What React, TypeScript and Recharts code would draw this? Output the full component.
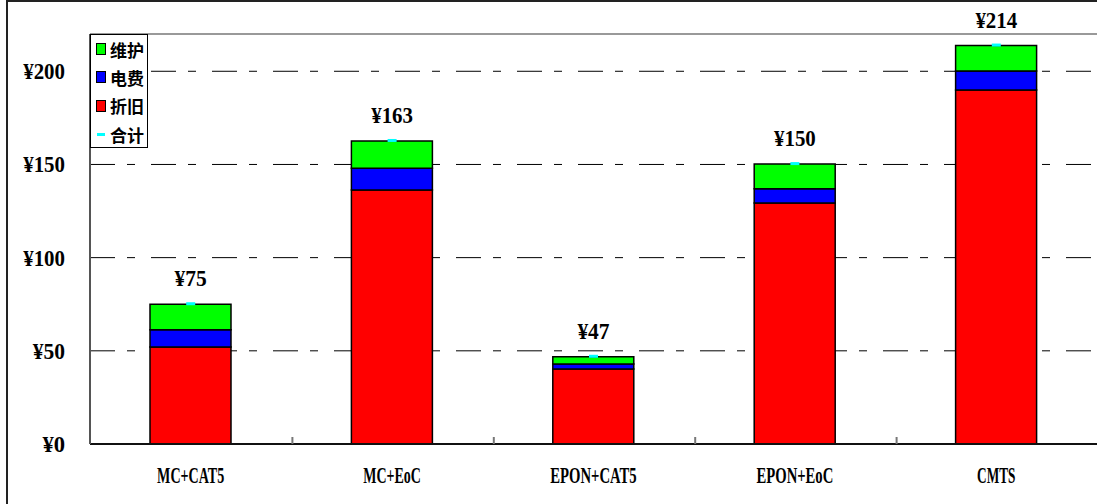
import React from 'react';
import {
  ComposedChart,
  Bar,
  Line,
  XAxis,
  YAxis,
  CartesianGrid,
  ReferenceLine,
  LabelList,
} from 'recharts';

// Access-network options and their yearly cost per user (¥)
const categories = ['MC+CAT5', 'MC+EoC', 'EPON+CAT5', 'EPON+EoC', 'CMTS'];
const depreciation = [52, 136.3, 40.3, 129.3, 190]; // 折旧
const power = [9.3, 11.6, 2.6, 7.7, 10.1]; // 电费
const maintenance = [13.7, 14.7, 3.9, 13.2, 13.7]; // 维护
const yTicks = [0, 50, 100, 150, 200];

const legendItems = [
  { name: '维护', color: '#00FF00', kind: 'box' },
  { name: '电费', color: '#0000FF', kind: 'box' },
  { name: '折旧', color: '#FF0000', kind: 'box' },
  { name: '合计', color: '#00FFFF', kind: 'dash' },
];

const data = categories.map((name, i) => ({
  name,
  折旧: depreciation[i],
  电费: power[i],
  维护: maintenance[i],
  合计: depreciation[i] + power[i] + maintenance[i],
}));

const LATIN_FONT = '"Liberation Serif", serif';
const CJK_FONT = '"Noto Sans CJK SC", sans-serif';

// half-width look: every glyph squeezed to a fixed advance
const textWidth = (s: string) =>
  Array.from(s).reduce((w, ch) => w + (ch === '¥' ? 13 : 9.6), 0);

const NarrowText = ({ x, y, text, anchor }: any) => (
  <text
    x={x}
    y={y}
    textAnchor={anchor}
    fontFamily={LATIN_FONT}
    fontWeight="bold"
    fontSize={23}
    fill="#000"
    textLength={textWidth(text)}
    lengthAdjust="spacingAndGlyphs"
  >
    {text}
  </text>
);

const yen = (v: number) => `¥${Math.round(v)}`;

const YTick = (props: any) => {
  const { x, y, payload } = props;
  return <NarrowText x={x} y={y + 8} text={yen(payload.value)} anchor="end" />;
};

const XTick = (props: any) => {
  const { x, y, payload, index } = props;
  const half = payload.offset ?? 0;
  return (
    <g>
      {index < categories.length - 1 && half > 0 && (
        <line x1={x + half + 1} x2={x + half + 1} y1={y - 7} y2={y} stroke="#777" strokeWidth={2} />
      )}
      <NarrowText x={x} y={y + 39} text={payload.value} anchor="middle" />
    </g>
  );
};

// small cyan dash sitting on the total
const TotalDot = (props: any) => {
  const { cx, cy } = props;
  if (cx == null || cy == null) return null;
  return <rect x={cx - 4.5} y={cy - 2} width={9} height={3} fill="#00FFFF" />;
};

const TotalLabel = (props: any) => {
  const { x, y, value } = props;
  return <NarrowText x={x} y={y - 18} text={yen(value)} anchor="middle" />;
};

const Legend = () => (
  <div
    style={{
      position: 'absolute',
      left: 90,
      top: 34,
      width: 58,
      height: 114,
      border: '1px solid #000',
      background: '#fff',
      boxSizing: 'border-box',
      paddingTop: 0,
    }}
  >
    {legendItems.map((it) => (
      <div
        key={it.name}
        style={{ display: 'flex', alignItems: 'center', height: 28.3, paddingLeft: 5 }}
      >
        {it.kind === 'box' ? (
          <span
            style={{
              display: 'inline-block',
              width: 8,
              height: 10,
              background: it.color,
              border: '1px solid #000',
            }}
          />
        ) : (
          <span
            style={{
              display: 'inline-block',
              width: 8,
              height: 3,
              marginLeft: 1,
              marginRight: 1,
              background: it.color,
            }}
          />
        )}
        <span
          style={{
            fontFamily: CJK_FONT,
            fontWeight: 'bold',
            fontSize: 17,
            marginLeft: 4,
            lineHeight: '17px',
            color: '#000',
          }}
        >
          {it.name}
        </span>
      </div>
    ))}
  </div>
);

export default function App() {
  return (
    <div
      style={{
        position: 'absolute',
        left: 0,
        top: 0,
        width: 1097,
        height: 504,
        background: '#fff',
        overflow: 'hidden',
      }}
    >
      <div
        style={{
          position: 'absolute',
          left: 6,
          top: 0,
          width: 1200,
          height: 600,
          borderLeft: '2px solid #222',
          borderTop: '2px solid #222',
        }}
      />
      <ComposedChart
        width={1097}
        height={504}
        data={data}
        margin={{ top: 34, right: 0, bottom: 0, left: 0 }}
        barCategoryGap="20%"
        style={{ position: 'absolute', left: 0, top: 0 }}
      >
        <CartesianGrid
          vertical={false}
          stroke="#000"
          strokeWidth={1}
          strokeDasharray="25 12 8 16"
        />
        <ReferenceLine y={220} stroke="#999" strokeWidth={2} />
        <XAxis
          dataKey="name"
          height={60}
          tickLine={false}
          tickSize={0}
          tickMargin={0}
          axisLine={{ stroke: '#111', strokeWidth: 2 }}
          tick={<XTick />}
          interval={0}
        />
        <YAxis
          width={90}
          domain={[0, 220]}
          ticks={yTicks}
          tickLine={false}
          tickSize={0}
          tickMargin={25}
          axisLine={{ stroke: '#555', strokeWidth: 2 }}
          tick={<YTick />}
          allowDataOverflow
        />
        <Bar dataKey="折旧" stackId="cost" fill="#FF0000" stroke="#000" strokeWidth={1.5} barSize={81} isAnimationActive={false} />
        <Bar dataKey="电费" stackId="cost" fill="#0000FF" stroke="#000" strokeWidth={1.5} barSize={81} isAnimationActive={false} />
        <Bar dataKey="维护" stackId="cost" fill="#00FF00" stroke="#000" strokeWidth={1.5} barSize={81} isAnimationActive={false} />
        <Line
          dataKey="合计"
          stroke="none"
          dot={<TotalDot />}
          activeDot={false}
          isAnimationActive={false}
        >
          <LabelList dataKey="合计" content={<TotalLabel />} />
        </Line>
      </ComposedChart>
      <Legend />
    </div>
  );
}
